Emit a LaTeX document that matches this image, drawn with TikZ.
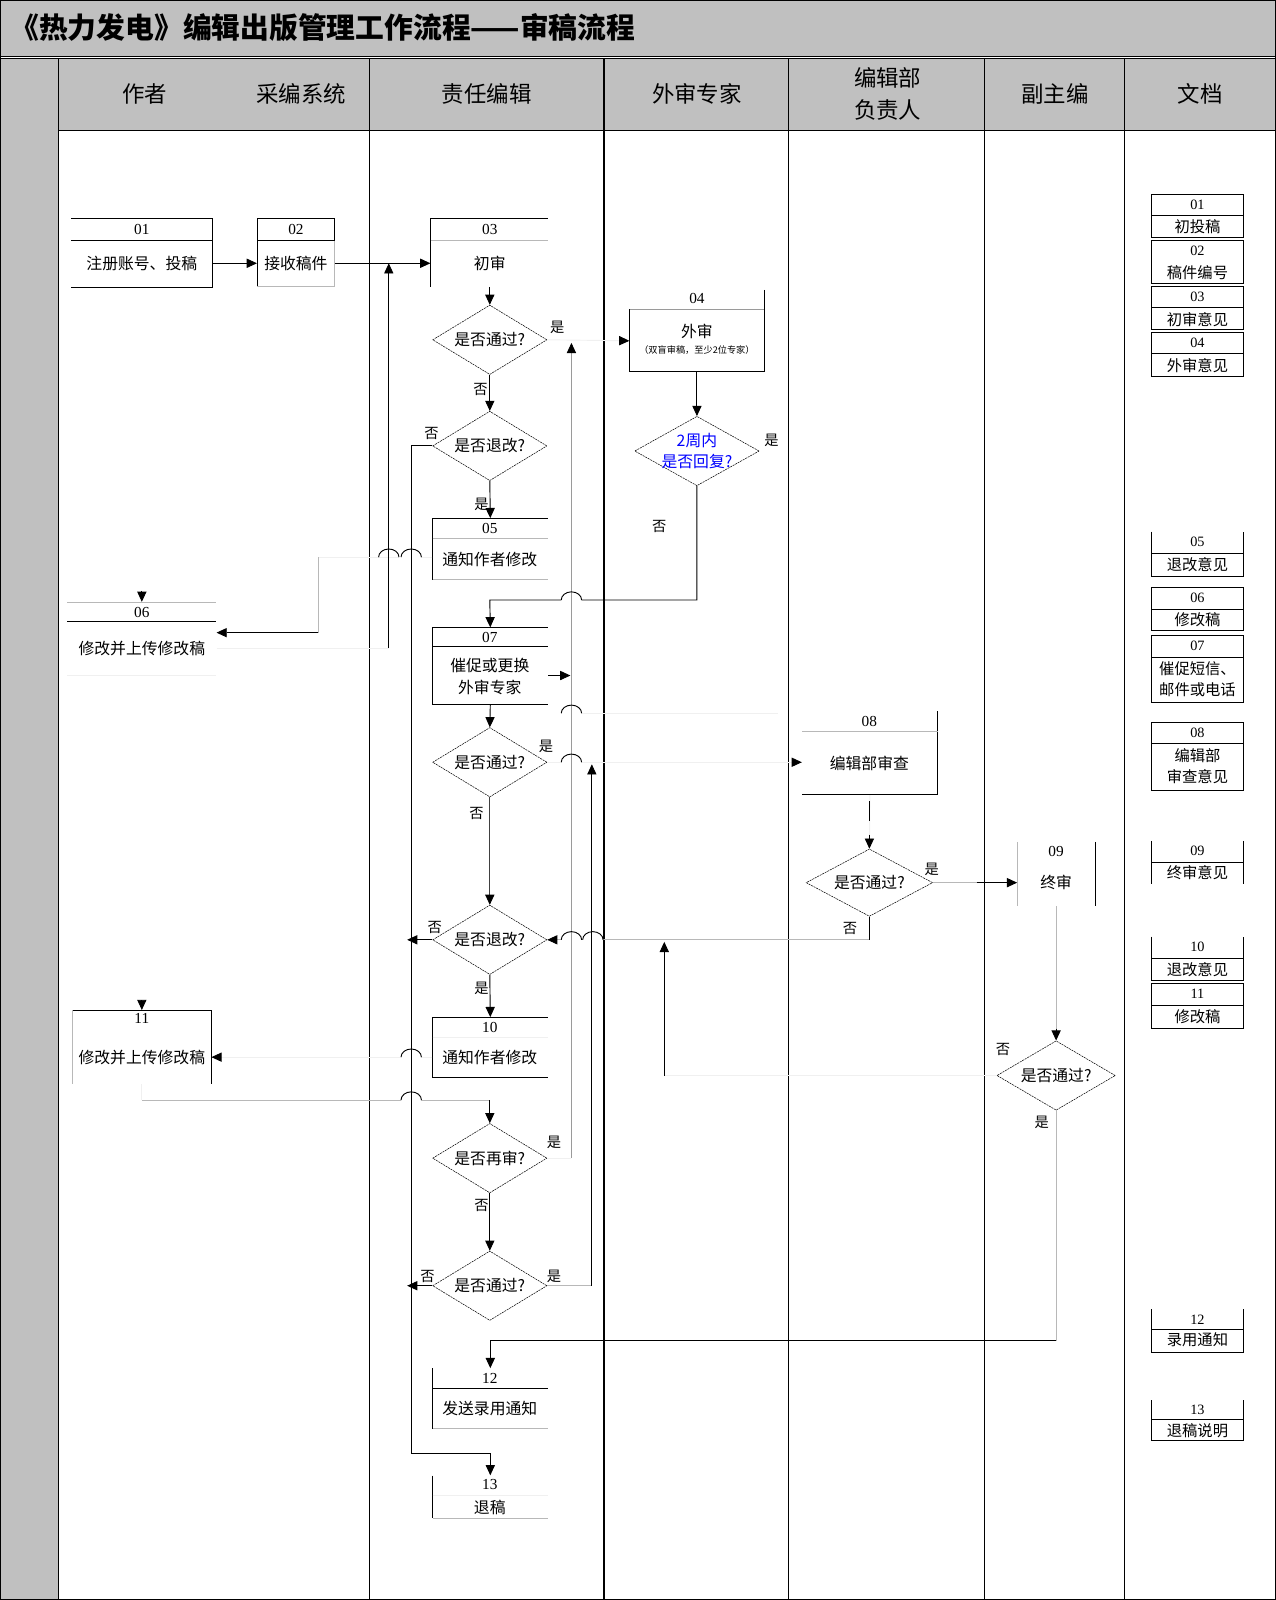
\documentclass[tikz,border=0pt]{standalone}
\usepackage{fontspec}
\setmainfont{Noto Sans CJK SC}
\newfontfamily\numfont{Liberation Serif}
\usetikzlibrary{arrows.meta,shapes.geometric,fit,calc}
\definecolor{hdrgray}{HTML}{C0C0C0}
\definecolor{lgray}{HTML}{B8B8B8}
\definecolor{vlgray}{HTML}{F0F0F0}
\definecolor{mgray}{HTML}{9A9A9A}
\newcommand\jump[2]{\draw[ln] (#1-10,#2) arc[start angle=180,end angle=360,x radius=10,y radius=8];}
\newcommand\docbox[6]{%
  \node[boxn, fit={(1128,#2) (1219,#3)}] (#1) {};
  \draw[ln] (1128,#2) -- (1128,#3) -- (1219,#3) -- (1219,#2);
  \node[dnum] (#1n) at (1173.5,#2+10) {#4};
  \node[dtxt] (#1t) at (1173.5,#6) {#5};
}
\begin{document}
\begin{tikzpicture}[x=1pt,y=-1pt,
  ln/.style={line width=0.9pt, draw=black},
  lt/.style={line width=0.9pt, draw=lgray},
  vl/.style={line width=0.9pt, draw=vlgray},
  mg/.style={line width=0.9pt, draw=mgray},
  lane/.style={line width=1.2pt, draw=black},
  arr/.style={-{Triangle[length=10pt,width=9pt,color=black]}},
  boxn/.style={inner sep=0pt, draw=none},
  num/.style={font=\numfont\fontsize{15}{17}\selectfont, inner sep=0pt},
  txt/.style={font=\fontsize{15.5}{19}\selectfont, inner sep=0pt, align=center},
  lbl/.style={font=\fontsize{14}{16}\selectfont, inner sep=0pt},
  dnum/.style={font=\numfont\fontsize{14}{16}\selectfont, inner sep=0pt},
  dtxt/.style={font=\fontsize{15}{21}\selectfont, inner sep=0pt, align=center},
  hdr/.style={font=\fontsize{22}{31}\selectfont, inner sep=0pt, align=center},
  dia/.style={diamond, draw, line width=0.5pt, dash pattern=on 2pt off 0.8pt, inner sep=0pt, aspect=1.65,
    minimum width=112pt, minimum height=68pt, font=\fontsize{15.5}{18}\selectfont}
]
\useasboundingbox (0,0) rectangle (1250,1568);
% ---------- frame ----------
\fill[hdrgray] (0,0) rectangle (1250,55);
\fill[hdrgray] (57,57) rectangle (1250,128);
\fill[hdrgray] (0,57) rectangle (57,1568);
\draw[lane] (0,0) rectangle (1250,1568);
\draw[lane] (0,55) -- (1250,55);
\draw[lane] (0,57) -- (1250,57);
\draw[lane] (57,128) -- (1250,128);
\foreach \x in {57,362,592,773,965,1102} \draw[lane] (\x,57) -- (\x,1568);
\node[anchor=west, inner sep=0pt, font=\bfseries\fontsize{28.2}{30}\selectfont] (title) at (10,27) {《热力发电》编辑出版管理工作流程——审稿流程};
\node[hdr] (h1) at (142,92) {作者};
\node[hdr] (h2) at (295,92) {采编系统};
\node[hdr] (h3) at (477,92) {责任编辑};
\node[hdr] (h4) at (683,92) {外审专家};
\node[hdr] (h5) at (870,92) {编辑部\\负责人};
\node[hdr] (h6) at (1034,92) {副主编};
\node[hdr] (h7) at (1176,92) {文档};

% ---------- boxes ----------
% 01
\node[boxn, fit={(70,214) (208,282)}] (b01) {};
\draw[ln] (70,214) -- (208,214) -- (208,282) -- (70,282);
\draw[ln] (70,236) -- (208,236);
\node[num] (n01) at (139,225) {01};
\node[txt] (t01) at (139,258) {注册账号、投稿};
% 02
\node[boxn, fit={(252,214) (328,281)}] (b02) {};
\draw[ln] (252,281) -- (252,214) -- (328,214) -- (328,236);
\draw[ln] (252,236) -- (328,236);
\draw[lt] (328,236) -- (328,281) -- (252,281);
\node[num] (n02) at (290,225) {02};
\node[txt] (t02) at (290,258) {接收稿件};
% 03
\node[boxn, fit={(422,214) (537,281)}] (b03) {};
\draw[ln] (537,214) -- (422,214) -- (422,281);
\draw[lt] (422,236) -- (537,236);
\node[num] (n03) at (480,225) {03};
\node[txt] (t03) at (480,258) {初审};
% 04
\node[boxn, fit={(617,284) (749,364)}] (b04) {};
\draw[ln] (749,284) -- (749,364) -- (617,364) -- (617,303);
\draw[mg] (617,303) -- (749,303);
\node[num] (n04) at (683,293) {04};
\node[txt] (t04) at (683,325) {外审};
\node[inner sep=0pt, font=\fontsize{9}{10}\selectfont] (t04s) at (683,343) {（双盲审稿，至少2位专家）};
% 05
\node[boxn, fit={(424,508) (537,568)}] (b05) {};
\draw[ln] (537,508) -- (424,508) -- (424,568);
\draw[lt] (424,528) -- (537,528);
\draw[lt] (424,568) -- (537,568);
\node[num] (n05) at (480,518) {05};
\node[txt] (t05) at (480,548) {通知作者修改};
% 06
\node[boxn, fit={(66,590) (212,662)}] (b06) {};
\draw[lt] (66,590) -- (212,590);
\draw[ln] (66,609) -- (212,609);
\draw[vl] (66,662) -- (212,662);
\node[num] (n06) at (139,600) {06};
\node[txt] (t06) at (139,636) {修改并上传修改稿};
% 07
\node[boxn, fit={(424,615) (537,690)}] (b07) {};
\draw[ln] (537,615) -- (424,615) -- (424,690) -- (537,690);
\draw[ln] (424,634) -- (537,634);
\node[num] (n07) at (480,625) {07};
\node[txt, font=\fontsize{15.5}{22}\selectfont] (t07) at (480,663) {催促或更换\\外审专家};
% 08
\node[boxn, fit={(786,697) (919,779)}] (b08) {};
\draw[ln] (919,697) -- (919,779) -- (786,779);
\draw[lt] (786,717) -- (919,717);
\node[num] (n08) at (852,707) {08};
\node[txt] (t08) at (852,748) {编辑部审查};
% 09
\node[boxn, fit={(997,825) (1074,888)}] (b09) {};
\draw[lt] (997,825) -- (997,888);
\draw[ln] (1074,825) -- (1074,888);
\node[num] (n09) at (1035,834) {09};
\node[txt] (t09) at (1035,865) {终审};
% 10
\node[boxn, fit={(424,997) (537,1056)}] (b10) {};
\draw[ln] (537,997) -- (424,997) -- (424,1056) -- (537,1056);
\draw[vl] (424,1017) -- (537,1017);
\node[num] (n10) at (480,1007) {10};
\node[txt] (t10) at (480,1036) {通知作者修改};
% 11
\node[boxn, fit={(71,990) (207,1062)}] (b11) {};
\draw[ln] (71,990) -- (207,990) -- (207,1062);
\draw[lt] (71,990) -- (71,1062);
\node[num] (n11) at (139,998) {11};
\node[txt] (t11) at (139,1036) {修改并上传修改稿};
% 12
\node[boxn, fit={(424,1341) (537,1400)}] (b12) {};
\draw[ln] (424,1341) -- (424,1400);
\draw[ln] (424,1361) -- (537,1361);
\draw[lt] (424,1400) -- (537,1400);
\node[num] (n12) at (480,1351) {12};
\node[txt] (t12) at (480,1380) {发送录用通知};
% 13
\node[boxn, fit={(424,1446) (537,1488)}] (b13) {};
\draw[ln] (424,1446) -- (424,1488);
\draw[vl] (424,1466) -- (537,1466);
\draw[lt] (424,1488) -- (537,1488);
\node[num] (n13) at (480,1455) {13};
\node[txt] (t13) at (480,1477) {退稿};

% ---------- decisions ----------
\node[dia] (d1) at (480,333) {是否通过?};
\node[dia] (d2) at (480,437) {是否退改?};
\node[dia, minimum width=122pt] (d3) at (683,442) {};
\node[txt, text=blue, font=\fontsize{15.5}{20}\selectfont] (t3) at (683,442) {2周内\\是否回复?};
\node[dia] (d4) at (480,747) {是否通过?};
\node[dia, minimum width=124pt, minimum height=66pt] (d8) at (852,865) {是否通过?};
\node[dia] (d5b) at (480,921) {是否退改?};
\node[dia] (d5) at (480,1135) {是否再审?};
\node[dia] (d6) at (480,1260) {是否通过?};
\node[dia, minimum width=116pt] (d7) at (1035,1054) {是否通过?};

% labels
\node[lbl] (l1y) at (546,321) {是};
\node[lbl] (l1n) at (471,382) {否};
\node[lbl] (l2n) at (423,425) {否};
\node[lbl] (l2y) at (472,494) {是};
\node[lbl] (l3y) at (756,432) {是};
\node[lbl] (l3n) at (646,516) {否};
\node[lbl] (l4y) at (535,731) {是};
\node[lbl] (l4n) at (467,797) {否};
\node[lbl] (l5n) at (426,909) {否};
\node[lbl] (l5y) at (472,969) {是};
\node[lbl] (l8y) at (913,852) {是};
\node[lbl] (l8n) at (833,910) {否};
\node[lbl] (l6y) at (543,1120) {是};
\node[lbl] (l6n) at (472,1181) {否};
\node[lbl] (l7n) at (419,1251) {否};
\node[lbl] (l7y) at (543,1251) {是};
\node[lbl] (l9n) at (983,1028) {否};
\node[lbl] (l9y) at (1021,1100) {是};

% ---------- connectors ----------
\draw[ln,arr] (b01.east |- t01) -- (b02.west |- t01);
\draw[ln,arr] (b02.east |- t02) -- (b03.west |- t03);
\draw[ln,arr] (d1 |- b03.south) -- (d1.north);
\draw[ln,arr] (d1.south) -- (d2.north);
\draw[ln,arr] (d2.south) -- (b05.north);
% 05 -> 06
\coordinate (c56a) at (312,546);
\coordinate (c56b) at (312,620);
\draw[vl] (b05.west |- c56a) -- (413,546) (391,546) -- (c56a);
\draw[lt] (c56a) -- (c56b);
\draw[ln,arr] (c56b) -- (b06.east |- c56b);
\coordinate (a06) at (139,579);
\draw[ln,arr] (a06) -- (b06.north);
% 06 -> 03
\coordinate (c63) at (381,635);
\draw[vl] (b06.east |- c63) -- (c63);
\draw[ln,arr] (c63) -- (c63 |- t02);
% 否 of d2 -> 13
\coordinate (c2a) at (403,437);
\coordinate (c2b) at (403,1424);
\draw[ln,arr] (d2.west) -- (c2a) -- (c2b) -| (b13.north);
% d1 -> 04
\coordinate (c14) at (606,334);
\draw[vl,arr] (d1.east) -- (b04.west |- c14);
\draw[ln,arr] (b04.south) -- (d3.north);
% d3 否 -> 07
\coordinate (c37a) at (683,588);
\coordinate (c37b) at (480,588);
\draw[ln,arr] (d3.south) -- (c37a) -- (570,588) (550,588) -- (c37b) -- (b07.north);
% d3 是 (faint)
\coordinate (c3b) at (762,699);
\draw[vl] (c3b) -- (570,699);
% 07 -> back to 04
\coordinate (c7r) at (559,662);
\draw[ln,arr] (b07.east |- c7r) -- (c7r);
\draw[ln,arr] (b07.south) -- (d4.north);
% d4 -> 08
\coordinate (c48) at (786,747);
\draw[vl,arr] (d4.east) -- (550,747) (570,747) -- (b08.west |- c48);
\draw[draw=black!75, line width=0.9pt, arr] (d4.south) -- (d5b.north);
% 08 -> d8
\draw[vl] (b08.south) -- (d8.north);
\draw[ln] (852,785) -- (852,805);
\coordinate (c8a) at (852,818);
\draw[ln,arr] (c8a) -- (d8.north);
% d8 -> 09
\coordinate (c89) at (957,865);
\draw[lt] (d8.east) -- (c89);
\draw[ln,arr] (c89) -- (b09.west |- c89);
% d8 否 -> d5b
\coordinate (c85) at (852,921);
\draw[ln] (d8.south) -- (c85);
\draw[lt] (c85) -- (591,921);
\draw[lt,arr] (550,921) -- (d5b.east);
% 09 -> d7
\coordinate (c97) at (1035,1008);
\draw[lt] (b09.south -| d7) -- (c97);
\draw[ln,arr] (c97) -- (d7.north);
% d7 否 -> up
\coordinate (c7a) at (651,1054);
\coordinate (c7b) at (651,923);
\draw[vl] (d7.west) -- (c7a);
\draw[ln,arr] (c7a) -- (c7b);
% d7 是 -> 12
\coordinate (c7c) at (1035,1314);
\draw[lt] (d7.south) -- (c7c);
\draw[ln,arr] (c7c) -| (b12.north);
% d5b
\coordinate (c5l) at (399,921);
\draw[ln,arr] (d5b.west) -- (c5l);
\draw[ln,arr] (d5b.south) -- (b10.north);
% 10 -> 11
\coordinate (c10) at (222,1036);
\draw[vl,arr] (b10.west |- c10) -- (413,1036) (393,1036) -- (b11.east |- c10);
\coordinate (a11) at (139,980);
\draw[ln,arr] (a11) -- (b11.north);
% 11 -> d5
\coordinate (c11a) at (139,1078);
\coordinate (c11b) at (480,1078);
\draw[vl] (b11.south) -- (c11a);
\draw[lt] (c11a) -- (393,1078) (413,1078) -- (c11b);
\draw[ln,arr] (c11b) -- (d5.north);
% d5 是 -> up to 04
\coordinate (c5a) at (560,1135);
\coordinate (c5b) at (560,336);
\draw[vl] (d5.east) -- (c5a);
\draw[mg,arr] (c5a) -- (c5b);
\draw[ln,arr] (d5.south) -- (d6.north);
% d6
\coordinate (c6l) at (399,1260);
\draw[ln,arr] (d6.west) -- (c6l);
\coordinate (c6a) at (580,1260);
\coordinate (c6b) at (580,749);
\draw[lt] (d6.east) -- (c6a);
\draw[ln,arr] (c6a) -- (c6b);
% jumps
\jump{381}{546}
\jump{403}{546}
\jump{560}{588}
\jump{560}{699}
\jump{560}{747}
\jump{560}{921}
\jump{581}{921}
\jump{403}{1036}
\jump{403}{1078}

% ---------- documents ----------
\docbox{dc01}{191}{233}{01}{初投稿}{222}
\draw[ln] (1128,191) -- (1219,191); \draw[ln] (1128,211) -- (1219,211);
\docbox{dc02}{236}{278}{02}{稿件编号}{267}
\draw[ln] (1128,236) -- (1219,236);
\docbox{dc03}{281}{323}{03}{初审意见}{313}
\draw[ln] (1128,281) -- (1219,281); \draw[ln] (1128,301) -- (1219,301);
\docbox{dc04}{326}{369}{04}{外审意见}{358}
\draw[ln] (1128,326) -- (1219,326); \draw[ln] (1128,346) -- (1219,346);
\docbox{dc05}{521}{565}{05}{退改意见}{553}
\draw[ln] (1128,542) -- (1219,542);
\docbox{dc06}{576}{618}{06}{修改稿}{607}
\draw[ln] (1128,576) -- (1219,576); \draw[ln] (1128,597) -- (1219,597);
\docbox{dc07}{623}{688}{07}{催促短信、\\邮件或电话}{665.5}
\draw[ln] (1128,623) -- (1219,623); \draw[ln] (1128,644) -- (1219,644);
\docbox{dc08}{708}{775}{08}{编辑部\\审查意见}{751}
\draw[ln] (1128,708) -- (1219,708); \draw[ln] (1128,729) -- (1219,729);
\node[boxn, fit={(1128,824) (1219,866)}] (dc09) {};
\draw[ln] (1128,824) -- (1128,866); \draw[ln] (1219,824) -- (1219,866);
\draw[ln] (1128,845) -- (1219,845);
\node[dnum] (dc09n) at (1173.5,834) {09};
\node[dtxt] (dc09t) at (1173.5,855) {终审意见};
\docbox{dc10}{918}{961}{10}{退改意见}{950}
\draw[ln] (1128,939) -- (1219,939);
\docbox{dc11}{964}{1008}{11}{修改稿}{996}
\draw[ln] (1128,964) -- (1219,964); \draw[ln] (1128,985) -- (1219,985);
\docbox{dc12}{1283}{1325}{12}{录用通知}{1313}
\draw[ln] (1128,1303) -- (1219,1303);
\docbox{dc13}{1372}{1412}{13}{退稿说明}{1402}
\draw[ln] (1128,1391) -- (1219,1391);
\end{tikzpicture}
\end{document}
